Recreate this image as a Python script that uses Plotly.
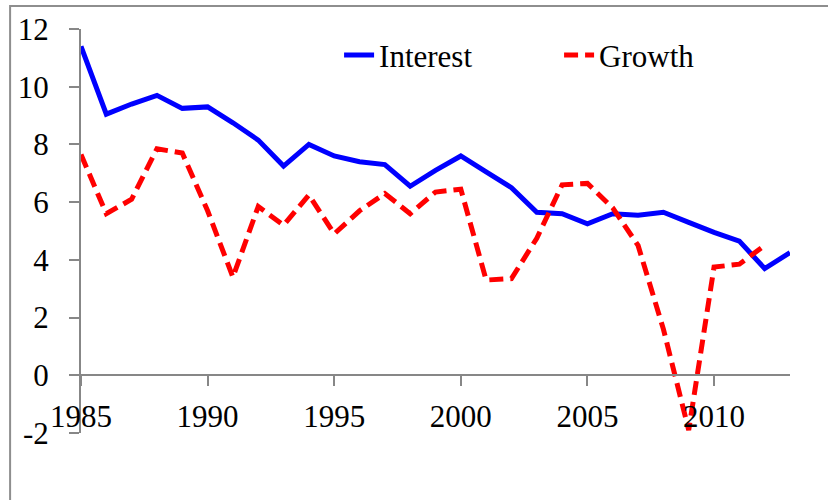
import plotly.graph_objects as go

years = list(range(1985, 2014))
interest = [11.4, 9.05, 9.4, 9.7, 9.25, 9.3, 8.75, 8.15, 7.25, 8.0, 7.6, 7.4, 7.3, 6.55,
            7.1, 7.6, 7.05, 6.5, 5.65, 5.6, 5.25, 5.6, 5.55, 5.65, 5.3, 4.95, 4.65, 3.7, 4.25]
growth_years = list(range(1985, 2013))
growth = [7.65, 5.6, 6.1, 7.85, 7.7, 5.7, 3.4, 5.85, 5.2, 6.25, 4.9, 5.7, 6.3, 5.6,
          6.35, 6.45, 3.3, 3.35, 4.75, 6.6, 6.65, 5.8, 4.5, 1.6, -1.9, 3.75, 3.85, 4.5]

y_tickvals = [-2, 0, 2, 4, 6, 8, 10, 12]
y_ticktext = ["-2", "0", "2", "4", "6", "8", "10", "12"]
x_tickvals = [1985, 1990, 1995, 2000, 2005, 2010]

FONT = "Liberation Serif, Times New Roman, DejaVu Serif, serif"
AXIS = "#878787"

fig = go.Figure()
fig.add_trace(go.Scatter(x=years, y=interest, name="Interest", mode="lines",
                         line=dict(color="#0000FF", width=5)))
fig.add_trace(go.Scatter(x=growth_years, y=growth, name="Growth", mode="lines",
                         line=dict(color="#FF0000", width=5, dash="14px,7px")))

fig.update_layout(
    width=828, height=500,
    margin=dict(l=81, r=38, t=29, b=67),
    paper_bgcolor="white", plot_bgcolor="white",
    font=dict(family=FONT, size=31, color="black"),
    showlegend=True,
    legend=dict(orientation="h", x=0.364, xanchor="left", y=0.935, yanchor="middle",
                font=dict(family=FONT, size=31), entrywidth=175, bgcolor="rgba(0,0,0,0)"),
    xaxis=dict(range=[1985, 2013], tickvals=x_tickvals, showgrid=False, zeroline=False,
               showline=True, linecolor=AXIS, linewidth=2,
               ticks="outside", ticklen=10, tickwidth=2, tickcolor=AXIS,
               anchor="free", position=2 / 14, ticklabelstandoff=4,
               tickfont=dict(family=FONT, size=31)),
    xaxis2=dict(range=[1985, 2013], tickvals=x_tickvals, overlaying="x", showgrid=False,
                zeroline=False, showline=False, showticklabels=False,
                ticks="inside", ticklen=10, tickwidth=2, tickcolor=AXIS,
                anchor="free", position=2 / 14),
    yaxis=dict(range=[-2, 12], tickvals=y_tickvals, ticktext=y_ticktext, showgrid=False,
               zeroline=False, showline=True, linecolor=AXIS, linewidth=2,
               ticks="outside", ticklen=10, tickwidth=2, tickcolor=AXIS,
               ticklabelstandoff=14, tickfont=dict(family=FONT, size=31)),
    shapes=[dict(type="rect", xref="paper", yref="paper", x0=-0.1, x1=1.3, y0=-0.3, y1=1.057,
                 line=dict(color="#8e8e8e", width=2), fillcolor="rgba(0,0,0,0)", layer="below")],
)

fig.write_html("out.html", config={"displayModeBar": False},
               post_script="document.body.style.margin='0';")
